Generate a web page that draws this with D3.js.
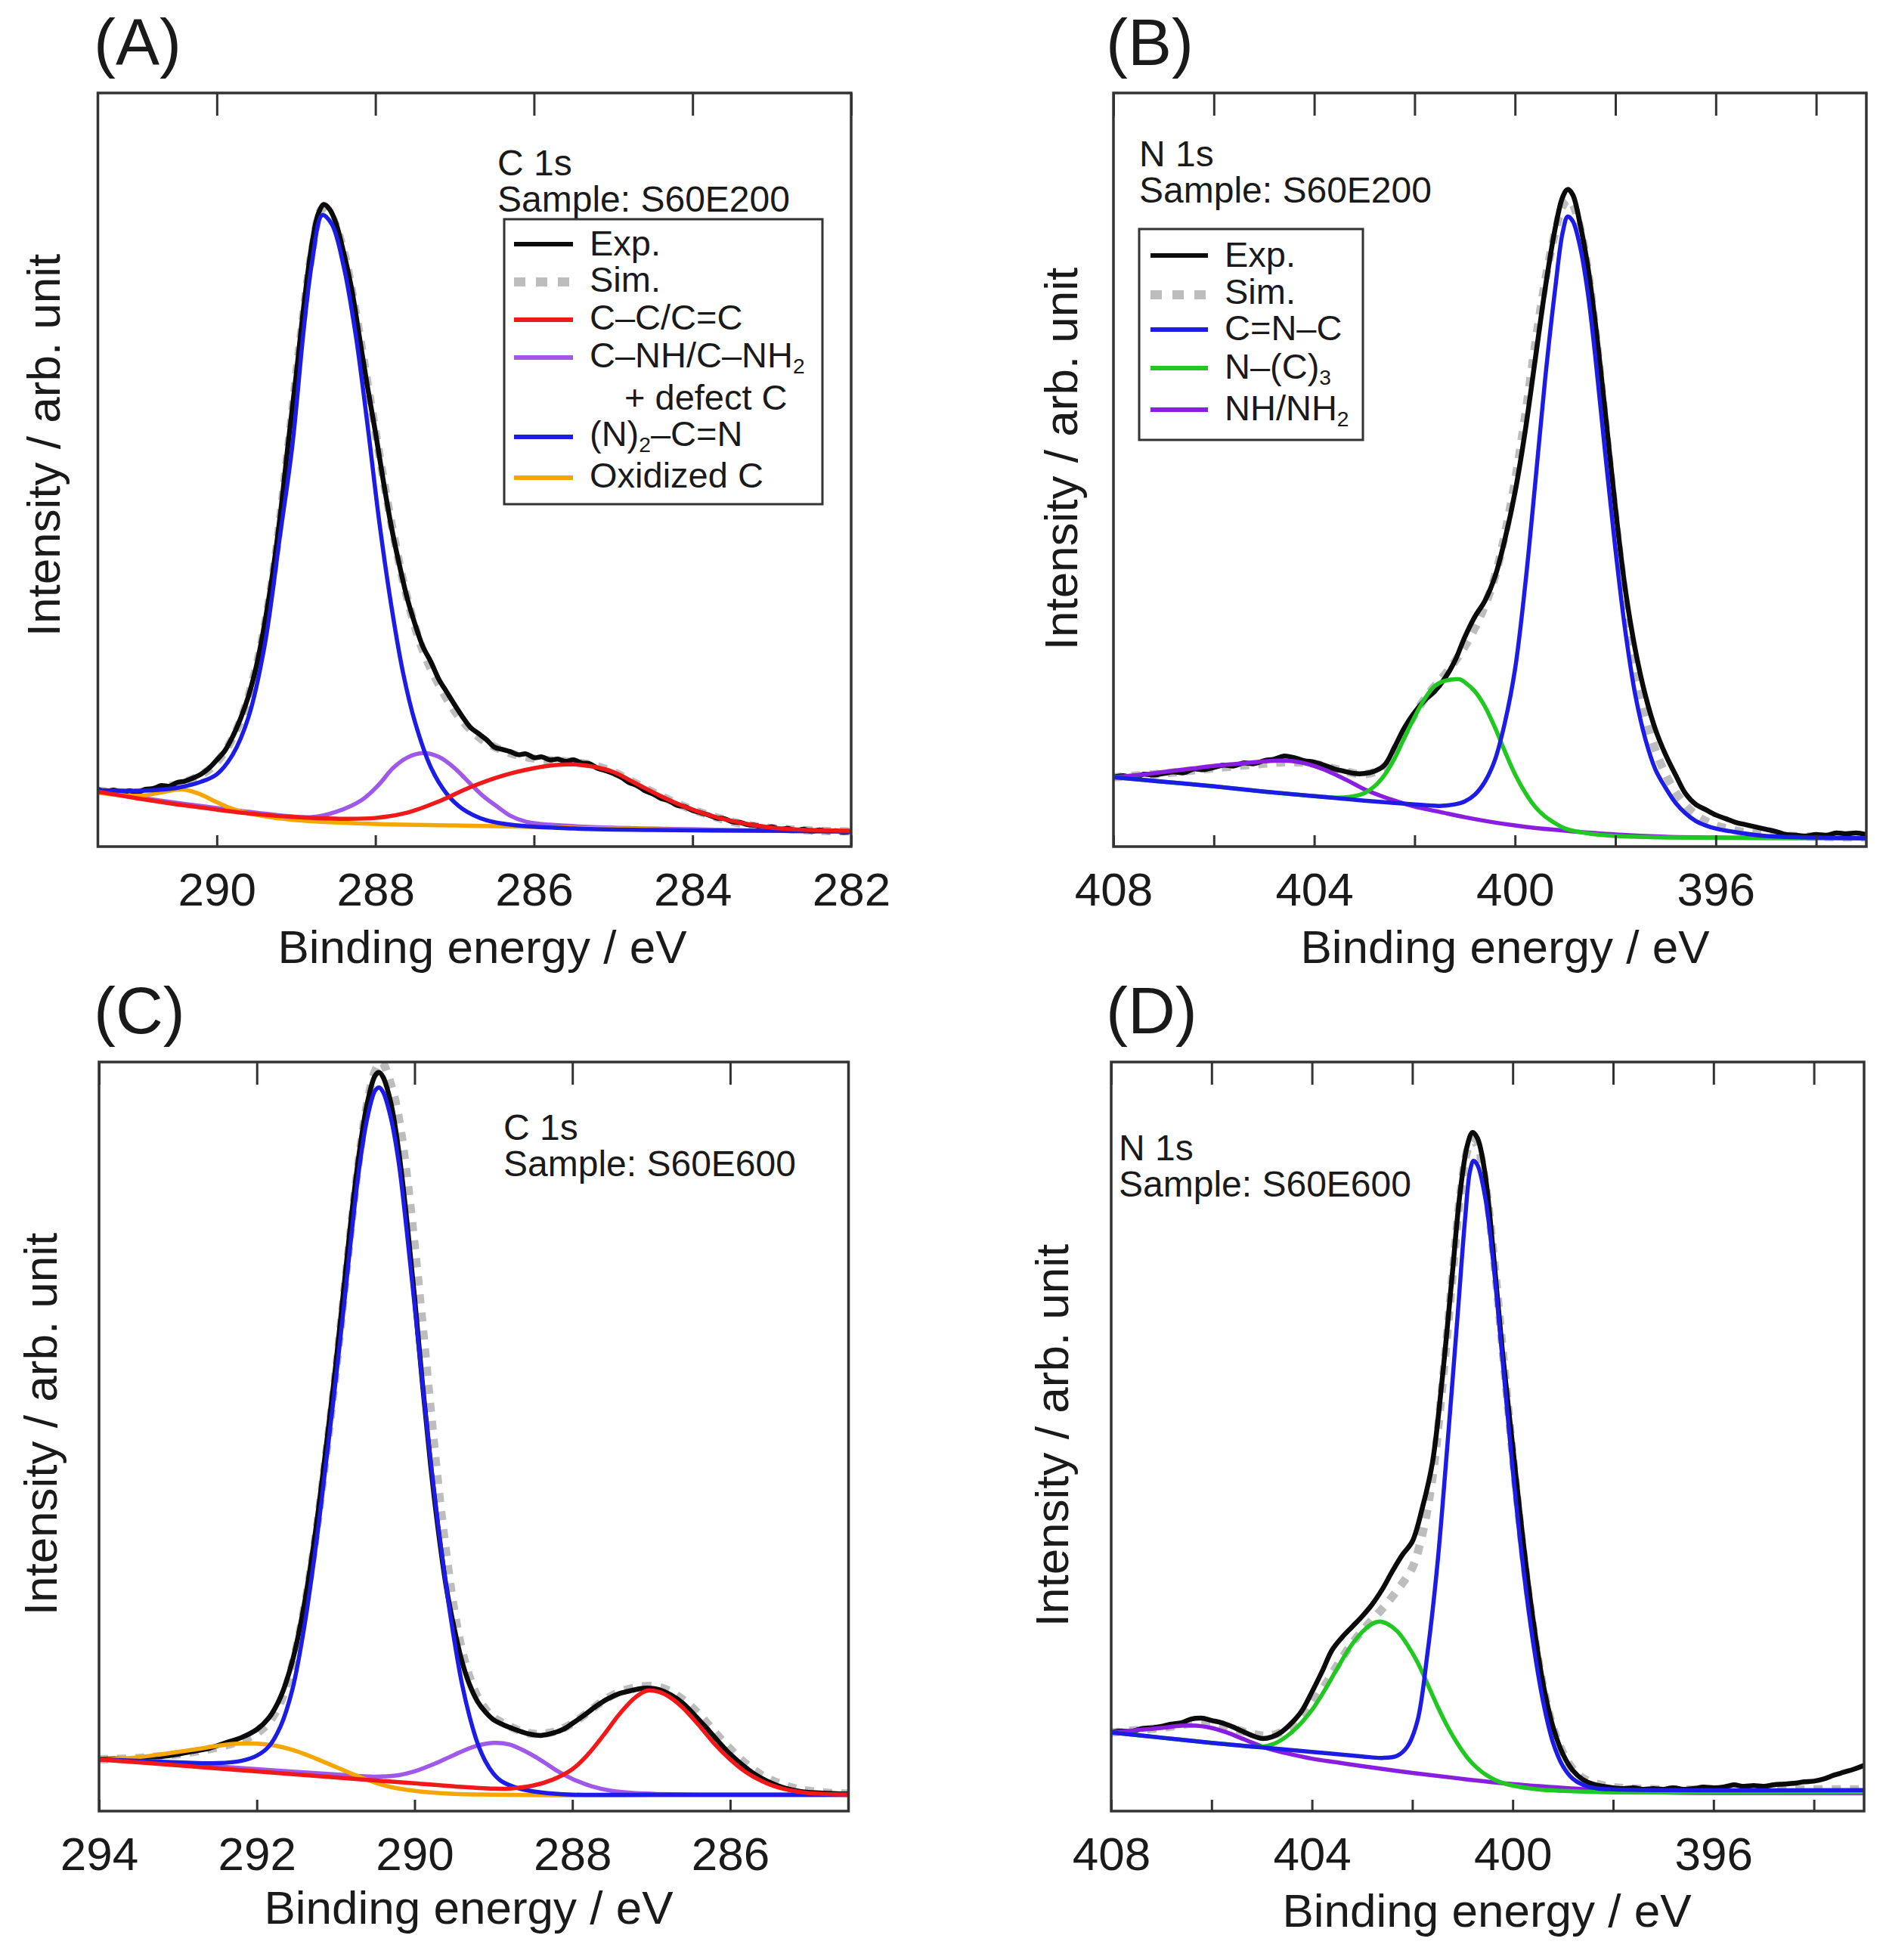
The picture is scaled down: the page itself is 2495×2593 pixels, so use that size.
<!DOCTYPE html>
<html><head><meta charset="utf-8">
<script src="https://cdn.jsdelivr.net/npm/d3@7"></script>
<style>
body{margin:0;background:#fff}
svg text{font-family:"Liberation Sans",Arial,Helvetica,sans-serif;fill:#1a1a1a}
</style>
</head><body>
<svg id="chart" width="2495" height="2593"></svg>
<script>
// ---------------- DATA (binding energy eV, intensity % of frame height) ----------------
const ticksA = [290, 288, 286, 284, 282];
const ticksC = [294, 292, 290, 288, 286];
const ticksN = [408, 406, 404, 402, 400, 398, 396, 394];
const labelsN = [408, 404, 400, 396];

// Panel A : C 1s, S60E200
const A_exp = [[291.5,7.6],[291.4,7.3],[291.3,7.5],[291.2,7.2],[291.1,7.4],[291.0,7.2],[290.9,7.6],[290.8,7.7],[290.7,8.1],[290.6,8.0],[290.5,8.5],[290.4,8.7],[290.3,9.1],[290.2,9.6],[290.1,10.4],[290.0,11.5],[289.9,12.7],[289.8,14.6],[289.7,17.0],[289.6,20.0],[289.5,24.0],[289.4,29.4],[289.3,36.0],[289.2,44.0],[289.1,53.5],[289.0,62.5],[288.9,72.0],[288.8,80.0],[288.72,84.0],[288.65,85.2],[288.58,84.6],[288.5,82.8],[288.4,78.8],[288.3,74.0],[288.2,67.5],[288.1,61.0],[288.0,55.0],[287.9,48.5],[287.8,42.5],[287.7,37.5],[287.6,33.0],[287.5,29.5],[287.4,26.5],[287.3,24.5],[287.2,22.2],[287.1,20.5],[287.0,18.8],[286.9,17.2],[286.8,15.8],[286.7,15.0],[286.6,14.2],[286.5,13.2],[286.4,12.9],[286.3,12.6],[286.2,12.2],[286.1,12.3],[286.0,11.8],[285.9,11.9],[285.8,11.5],[285.7,11.6],[285.6,11.3],[285.5,11.5],[285.4,11.1],[285.3,11.0],[285.2,10.4],[285.1,10.1],[285.0,9.7],[284.9,9.2],[284.8,8.5],[284.7,8.1],[284.6,7.4],[284.5,7.0],[284.4,6.4],[284.3,6.1],[284.2,5.5],[284.1,5.3],[284.0,4.8],[283.9,4.5],[283.8,4.2],[283.7,3.8],[283.6,3.7],[283.5,3.3],[283.4,3.2],[283.3,2.9],[283.2,2.8],[283.1,2.5],[283.0,2.6],[282.9,2.3],[282.8,2.4],[282.7,2.1],[282.6,2.3],[282.5,2.0],[282.4,2.2],[282.3,2.0],[282.2,2.1],[282.1,1.9],[282.0,2.0]];
const A_sim = [[291.5,7.4],[291.0,7.2],[290.6,8.0],[290.3,9.0],[290.1,10.2],[289.9,12.6],[289.7,16.8],[289.5,24.0],[289.3,35.5],[289.1,53.0],[288.95,67.0],[288.8,79.0],[288.67,84.6],[288.55,83.5],[288.4,79.0],[288.25,71.0],[288.1,61.5],[287.95,52.0],[287.8,43.0],[287.6,33.0],[287.4,26.0],[287.2,21.5],[287.0,18.0],[286.8,15.5],[286.6,13.8],[286.3,12.4],[286.0,11.7],[285.6,11.3],[285.3,10.9],[285.0,9.9],[284.7,8.3],[284.4,6.7],[284.1,5.3],[283.8,4.2],[283.5,3.3],[283.2,2.7],[282.8,2.3],[282.4,2.1],[282.0,2.0]];
const A_cc = [[291.5,7.3],[291.0,6.4],[290.5,5.6],[290.0,4.9],[289.5,4.3],[289.0,3.9],[288.5,3.7],[288.0,3.8],[287.6,4.5],[287.2,6.0],[286.8,7.9],[286.4,9.4],[286.0,10.4],[285.75,10.8],[285.5,10.9],[285.25,10.6],[285.0,9.9],[284.7,8.3],[284.4,6.7],[284.1,5.3],[283.8,4.2],[283.5,3.4],[283.2,2.8],[282.9,2.4],[282.5,2.2],[282.0,2.1]];
const A_cnh = [[291.5,7.3],[290.5,5.8],[289.5,4.5],[288.8,3.9],[288.5,4.6],[288.17,6.2],[287.95,8.3],[287.78,10.4],[287.6,11.8],[287.4,12.4],[287.2,11.9],[287.0,10.4],[286.8,8.3],[286.63,6.6],[286.45,5.2],[286.3,4.1],[286.1,3.3],[285.8,2.9],[285.0,2.5],[284.0,2.3],[283.0,2.1],[282.0,2.0]];
const A_ncn = [[291.5,7.5],[291.0,7.4],[290.5,7.8],[290.2,8.6],[290.0,9.6],[289.8,12.2],[289.6,17.2],[289.4,26.5],[289.2,41.5],[289.05,53.0],[288.9,69.0],[288.8,77.5],[288.67,83.8],[288.55,82.6],[288.4,77.0],[288.25,68.0],[288.1,56.0],[287.95,43.0],[287.8,32.0],[287.65,23.0],[287.5,16.5],[287.3,10.5],[287.1,7.0],[286.9,5.0],[286.6,3.5],[286.2,2.8],[285.5,2.4],[284.5,2.2],[283.0,2.1],[282.0,2.0]];
const A_ox = [[291.5,7.2],[291.2,6.8],[290.9,6.8],[290.7,7.2],[290.45,7.6],[290.25,7.1],[290.0,5.9],[289.8,5.0],[289.5,4.2],[289.0,3.5],[288.0,3.0],[287.0,2.8],[286.0,2.6],[285.0,2.4],[284.0,2.2],[283.0,2.1],[282.0,2.0]];

// Panel B : N 1s, S60E200
const B_exp = [[408,9.2],[407.8,9.4],[407.6,9.1],[407.4,9.6],[407.2,9.5],[407,9.7],[406.8,9.9],[406.6,9.8],[406.4,10.3],[406.2,10.2],[406,10.5],[405.8,10.8],[405.6,10.7],[405.4,11.1],[405.2,11.0],[405,11.4],[404.8,11.6],[404.6,12.0],[404.4,11.8],[404.2,11.4],[404,11.2],[403.8,10.8],[403.6,10.3],[403.4,10.0],[403.2,9.7],[403,9.7],[402.8,10.0],[402.6,10.8],[402.4,13.2],[402.2,15.8],[402,17.8],[401.8,19.4],[401.6,20.6],[401.4,22.3],[401.2,24.6],[401,27.8],[400.8,30.5],[400.6,32.6],[400.4,35.8],[400.2,40.8],[400,47.0],[399.8,55.0],[399.6,64.5],[399.4,74.0],[399.2,82.0],[399.05,86.2],[398.95,87.2],[398.85,86.5],[398.7,82.5],[398.55,77.0],[398.4,69.5],[398.2,57.5],[398,45.0],[397.8,34.0],[397.6,26.0],[397.4,20.0],[397.2,15.5],[397,12.2],[396.8,9.5],[396.6,7.0],[396.4,5.6],[396.2,4.9],[396,4.2],[395.8,3.7],[395.6,3.2],[395.4,2.9],[395.2,2.6],[395,2.3],[394.8,2.0],[394.6,1.6],[394.4,1.5],[394.2,1.4],[394,1.6],[393.8,1.5],[393.6,1.8],[393.4,1.7],[393.2,1.8],[393,1.6]];
const B_sim = [[408,9.2],[407,9.7],[406,10.4],[405,11.0],[404.5,11.2],[404,11.0],[403.5,10.2],[403,9.6],[402.6,10.6],[402.3,13.8],[402,17.5],[401.7,20.5],[401.4,22.8],[401.1,25.5],[400.8,29.0],[400.6,32.0],[400.4,35.8],[400.2,41.5],[400,48.5],[399.8,57.0],[399.6,66.5],[399.4,75.0],[399.2,81.5],[399.05,85.0],[398.95,85.8],[398.85,85.2],[398.7,82.0],[398.55,76.5],[398.4,68.5],[398.2,56.0],[398,43.5],[397.8,32.5],[397.6,23.5],[397.4,17.2],[397.2,12.8],[397,9.6],[396.8,7.2],[396.6,5.5],[396.4,4.2],[396.2,3.4],[396,2.8],[395.5,2.0],[395,1.6],[394,1.3],[393,1.2]];
const B_cnc = [[408,9.2],[407,8.6],[406,8.0],[405,7.3],[404,6.7],[403,6.1],[402,5.6],[401.5,5.4],[401.2,5.6],[401,6.0],[400.8,6.9],[400.6,8.6],[400.4,11.5],[400.2,16.5],[400,23.5],[399.8,34.5],[399.6,48.0],[399.4,62.0],[399.2,74.0],[399.05,81.5],[398.95,83.6],[398.85,83.0],[398.7,79.5],[398.55,73.5],[398.4,65.0],[398.2,52.0],[398,39.5],[397.8,28.5],[397.6,20.0],[397.4,14.2],[397.2,10.2],[397,7.8],[396.8,5.8],[396.6,4.4],[396.4,3.4],[396.2,2.8],[396,2.4],[395.5,1.8],[395,1.4],[394,1.2],[393,1.1]];
const B_nc3 = [[408,9.2],[407,8.6],[406,8.0],[405,7.3],[404,6.7],[403.5,6.5],[403.2,6.7],[403,7.1],[402.8,8.0],[402.6,9.5],[402.4,11.7],[402.2,14.5],[402,17.2],[401.8,19.6],[401.6,21.3],[401.4,22.0],[401.2,22.2],[401.1,22.2],[401,21.8],[400.8,20.6],[400.6,18.6],[400.4,15.8],[400.2,12.6],[400,9.6],[399.8,7.2],[399.6,5.3],[399.4,4.0],[399.2,3.1],[399,2.4],[398.5,1.7],[398,1.4],[397,1.2],[393,1.1]];
const B_nh = [[408,9.2],[407.5,9.5],[407,9.9],[406.5,10.3],[406,10.7],[405.5,11.0],[405,11.3],[404.7,11.4],[404.4,11.3],[404.1,10.9],[403.8,10.2],[403.5,9.3],[403.2,8.3],[403,7.6],[402.7,6.8],[402.4,6.1],[402,5.3],[401.5,4.6],[401,3.9],[400.5,3.3],[400,2.8],[399.5,2.4],[399,2.1],[398,1.6],[397,1.3],[396,1.2],[393,1.1]];

// Panel C : C 1s, S60E600
const C_exp = [[294,6.9],[293.8,7.0],[293.6,6.9],[293.4,7.2],[293.2,7.3],[293,7.6],[292.8,8.0],[292.6,8.4],[292.4,9.1],[292.2,9.8],[292,10.9],[291.85,12.4],[291.7,15.2],[291.55,20.0],[291.4,27.5],[291.25,37.8],[291.1,50.5],[291,59.5],[290.9,69.5],[290.8,79.5],[290.7,88.0],[290.6,94.5],[290.5,98.2],[290.45,98.6],[290.4,98.0],[290.3,94.5],[290.2,88.0],[290.1,79.0],[290,68.5],[289.9,57.0],[289.8,46.5],[289.7,37.5],[289.6,30.0],[289.5,24.5],[289.4,20.0],[289.3,16.8],[289.2,14.6],[289.1,13.2],[289,12.2],[288.85,11.4],[288.7,10.8],[288.55,10.3],[288.4,10.1],[288.25,10.4],[288.1,11.0],[288,11.7],[287.85,12.8],[287.7,14.0],[287.55,15.0],[287.4,15.7],[287.25,16.1],[287.1,16.4],[287,16.4],[286.9,16.2],[286.75,15.5],[286.6,14.4],[286.45,12.8],[286.3,11.1],[286.15,9.3],[286,7.6],[285.85,6.2],[285.7,5.0],[285.55,4.1],[285.4,3.4],[285.25,2.9],[285.1,2.6],[285,2.5],[284.8,2.4],[284.6,2.3],[284.4,2.3]];
const C_sim = [[294,6.9],[293.5,7.1],[293,7.6],[292.5,8.5],[292.2,9.4],[292,10.4],[291.85,11.8],[291.7,14.5],[291.55,19.5],[291.4,27.0],[291.25,37.0],[291.1,49.5],[291,58.5],[290.9,68.5],[290.8,78.5],[290.7,87.5],[290.6,94.5],[290.5,98.8],[290.42,100],[290.3,97.0],[290.2,92.5],[290.1,85.0],[290.0,75.5],[289.9,65.0],[289.8,54.0],[289.7,43.5],[289.6,34.5],[289.5,27.0],[289.4,21.5],[289.3,17.8],[289.2,15.2],[289.1,13.6],[289.0,12.5],[288.85,11.6],[288.6,10.5],[288.4,10.3],[288.2,10.7],[288,11.7],[287.8,13.2],[287.6,14.8],[287.4,15.9],[287.2,16.5],[287,16.7],[286.8,16.2],[286.6,14.9],[286.4,13.0],[286.2,10.6],[286,8.3],[285.8,6.3],[285.6,4.8],[285.4,3.8],[285.2,3.1],[285,2.7],[284.7,2.4],[284.4,2.3]];
const C_cc = [[294,6.9],[293,6.1],[292,5.3],[291,4.5],[290,3.7],[289.5,3.3],[289,3.0],[288.8,3.0],[288.5,3.4],[288.25,4.2],[288.0,5.6],[287.8,7.6],[287.6,10.2],[287.4,13.0],[287.2,15.2],[287.05,16.1],[286.9,15.9],[286.75,15.1],[286.6,13.8],[286.4,11.5],[286.2,9.0],[286,6.9],[285.8,5.2],[285.6,4.0],[285.4,3.2],[285.2,2.7],[285,2.4],[284.4,2.2]];
const C_cnh = [[294,6.9],[293,6.3],[292,5.6],[291,4.9],[290.5,4.6],[290.2,4.8],[290,5.3],[289.75,6.3],[289.5,7.5],[289.25,8.6],[289,9.1],[288.8,8.9],[288.6,8.0],[288.4,6.8],[288.2,5.4],[288,4.3],[287.75,3.3],[287.5,2.7],[287.2,2.4],[286.5,2.2],[284.4,2.2]];
const C_ncn = [[294,6.9],[293.5,6.7],[293,6.5],[292.5,6.4],[292.2,6.7],[292,7.4],[291.85,8.6],[291.7,11.3],[291.55,16.2],[291.4,24.5],[291.25,35.5],[291.1,48.5],[291,57.5],[290.9,67.0],[290.8,77.0],[290.7,86.0],[290.6,92.5],[290.5,96.2],[290.45,96.6],[290.4,96.0],[290.3,92.5],[290.2,86.5],[290.1,77.5],[290,67.5],[289.9,57.0],[289.8,47.0],[289.7,38.0],[289.6,30.0],[289.5,23.0],[289.4,17.0],[289.3,12.5],[289.2,9.0],[289.1,6.6],[289,5.0],[288.9,4.0],[288.7,3.1],[288.4,2.5],[288,2.2],[287,2.2],[286,2.2],[284.4,2.2]];
const C_ox = [[294,6.9],[293.6,7.1],[293.2,7.6],[292.8,8.2],[292.5,8.7],[292.25,9.0],[292,9.0],[291.75,8.7],[291.5,8.0],[291.25,7.0],[291,5.9],[290.75,4.8],[290.5,3.8],[290.25,3.1],[290,2.7],[289.5,2.3],[289,2.2],[288,2.1],[284.4,2.1]];

// Panel D : N 1s, S60E600
const D_exp = [[408,10.5],[407.8,10.7],[407.6,10.6],[407.4,11.0],[407.2,11.1],[407,11.3],[406.8,11.6],[406.6,11.8],[406.4,12.3],[406.2,12.4],[406,12.1],[405.8,11.8],[405.6,11.3],[405.4,10.7],[405.2,10.1],[405,9.7],[404.8,9.9],[404.6,10.6],[404.4,11.8],[404.2,13.4],[404,15.9],[403.8,18.6],[403.6,21.5],[403.4,23.2],[403.2,24.6],[403,26.0],[402.8,27.6],[402.6,29.6],[402.4,32.0],[402.2,34.2],[402,36.0],[401.8,40.5],[401.6,46.5],[401.4,58.0],[401.2,72.0],[401.05,82.5],[400.9,89.0],[400.8,90.6],[400.7,89.8],[400.55,85.0],[400.4,75.5],[400.2,61.0],[400,48.7],[399.8,36.5],[399.6,25.8],[399.4,17.2],[399.2,11.3],[399,7.6],[398.8,5.4],[398.6,4.2],[398.4,3.6],[398.2,3.3],[398,3.1],[397.8,3.0],[397.6,3.1],[397.4,2.9],[397.2,3.0],[397,2.9],[396.8,3.1],[396.6,2.9],[396.4,3.0],[396.2,3.2],[396,3.1],[395.8,3.2],[395.6,3.5],[395.4,3.3],[395.2,3.4],[395,3.3],[394.8,3.5],[394.6,3.6],[394.4,3.7],[394.2,3.9],[394,4.0],[393.8,4.3],[393.6,4.8],[393.4,5.2],[393.2,5.6],[393,6.1]];
const D_sim = [[408,10.5],[407.5,10.8],[407,11.1],[406.5,11.6],[406.2,11.8],[405.9,11.6],[405.6,11.1],[405.3,10.5],[405,10.1],[404.7,10.3],[404.4,11.4],[404.1,13.4],[403.8,16.2],[403.5,19.4],[403.2,22.4],[402.9,24.8],[402.6,27.0],[402.3,29.5],[402,32.5],[401.8,37.0],[401.6,44.5],[401.4,57.0],[401.2,71.5],[401.05,82.0],[400.9,88.3],[400.8,89.6],[400.7,88.8],[400.55,84.0],[400.4,75.5],[400.2,61.5],[400,47.5],[399.8,35.0],[399.6,24.8],[399.4,16.8],[399.2,11.2],[399,7.8],[398.8,5.6],[398.6,4.4],[398.3,3.6],[398,3.2],[397,2.9],[396,2.9],[395,2.9],[394,2.9],[393,2.9]];
const D_cnc = [[408,10.5],[407,9.8],[406,9.1],[405,8.5],[404,7.9],[403,7.3],[402.6,7.1],[402.3,7.4],[402.1,8.6],[401.9,12.0],[401.7,21.0],[401.5,33.0],[401.3,49.0],[401.1,66.0],[400.95,79.0],[400.85,85.5],[400.78,86.8],[400.7,86.2],[400.55,82.0],[400.4,74.0],[400.2,60.0],[400,45.5],[399.8,33.0],[399.6,22.8],[399.4,14.8],[399.2,9.2],[399,6.0],[398.8,4.3],[398.6,3.5],[398.3,3.0],[398,2.9],[397,2.8],[393,2.8]];
const D_nc3 = [[408,10.5],[407,9.8],[406,9.1],[405.5,8.8],[405,8.6],[404.75,9.0],[404.5,10.0],[404.25,11.5],[404,13.5],[403.75,16.1],[403.5,19.0],[403.25,21.8],[403,23.9],[402.8,25.0],[402.65,25.3],[402.5,25.0],[402.3,24.0],[402.1,22.2],[401.9,19.9],[401.7,17.0],[401.5,14.0],[401.3,11.3],[401.1,9.0],[400.9,7.1],[400.7,5.7],[400.5,4.7],[400.3,4.0],[400,3.4],[399.5,2.9],[399,2.7],[398,2.5],[393,2.5]];
const D_nh = [[408,10.5],[407.5,10.8],[407,11.1],[406.6,11.4],[406.3,11.4],[406,11.1],[405.7,10.5],[405.4,9.7],[405.1,8.9],[404.8,8.2],[404.5,7.7],[404,7.0],[403.5,6.5],[403,6.0],[402,5.1],[401,4.3],[400,3.6],[399,3.1],[398,2.7],[397,2.5],[396,2.4],[393,2.4]];

// ---------------- STYLE / LAYOUT ----------------
const COL = {exp:"#0b0b0b", sim:"#bdbdbd", red:"#f01818", violet:"#a058e8", blue:"#1c1ce6",
             green:"#22c822", orange:"#f5a600", nh:"#8a1ee0"};
const svg = d3.select("#chart");

function addRich(g, x, y, parts, size) {
  const t = g.append("text").attr("x", x).attr("y", y).attr("font-size", size);
  let inSub = false;
  parts.forEach(p => {
    const s = t.append("tspan");
    if (typeof p === "string") {
      s.text(p);
      if (inSub) { s.attr("dy", -size * 0.16); inSub = false; }
    } else {
      s.text(p.sub).attr("font-size", size * 0.6).attr("dy", size * 0.16);
      inSub = true;
    }
  });
  return t;
}

function panel(cfg) {
  const g = svg.append("g");
  const x = d3.scaleLinear().domain(cfg.domain).range([cfg.x0, cfg.x1]);
  const y = d3.scaleLinear().domain([0, 100]).range([cfg.y1, cfg.y0]);
  const id = "clip" + cfg.name;
  svg.append("clipPath").attr("id", id).append("rect")
    .attr("x", cfg.x0).attr("y", cfg.y0).attr("width", cfg.x1 - cfg.x0).attr("height", cfg.y1 - cfg.y0);
  const line = d3.line().x(d => x(d[0])).y(d => y(d[1])).curve(d3.curveCatmullRom.alpha(0.5));
  const plot = g.append("g").attr("clip-path", `url(#${id})`);

  plot.append("path").datum(cfg.sim).attr("d", line).attr("fill", "none")
    .attr("stroke", COL.sim).attr("stroke-width", 11).attr("stroke-dasharray", "12 12");
  plot.append("path").datum(cfg.exp).attr("d", line).attr("fill", "none")
    .attr("stroke", COL.exp).attr("stroke-width", 6.5).attr("stroke-linejoin", "round");
  cfg.comps.forEach(c => {
    plot.append("path").datum(c.data).attr("d", line).attr("fill", "none")
      .attr("stroke", c.color).attr("stroke-width", 5.5).attr("stroke-linejoin", "round");
  });

  // frame
  g.append("rect").attr("x", cfg.x0).attr("y", cfg.y0).attr("width", cfg.x1 - cfg.x0)
    .attr("height", cfg.y1 - cfg.y0).attr("fill", "none").attr("stroke", "#333").attr("stroke-width", 3.5);

  // top ticks (inward)
  const top = g.append("g").attr("transform", `translate(0,${cfg.y0})`)
    .call(d3.axisTop(x).tickValues(cfg.ticks).tickSizeInner(-30).tickSizeOuter(0).tickFormat(""));
  top.select(".domain").remove();
  top.selectAll("line").attr("stroke", "#333").attr("stroke-width", 3);

  // bottom ticks + labels
  const bot = g.append("g").attr("transform", `translate(0,${cfg.y1})`)
    .call(d3.axisBottom(x).tickValues(cfg.ticks).tickSizeInner(-15).tickSizeOuter(0).tickPadding(34)
      .tickFormat(d => cfg.labels.includes(d) ? d3.format("d")(d) : ""));
  bot.select(".domain").remove();
  bot.selectAll("line").attr("stroke", "#333").attr("stroke-width", 3);
  bot.selectAll("text").attr("font-size", 62).attr("fill", "#1a1a1a")
    .attr("font-family", '"Liberation Sans",Arial,sans-serif');

  // axis titles
  g.append("text").attr("x", cfg.xtX).attr("y", cfg.xtY).attr("text-anchor", "middle")
    .attr("font-size", 62).text("Binding energy / eV");
  g.append("text").attr("transform", `translate(${cfg.ytX},${cfg.ytY}) rotate(-90)`)
    .attr("text-anchor", "middle").attr("font-size", 62).text("Intensity / arb. unit");
  // panel letter
  g.append("text").attr("x", cfg.lx).attr("y", cfg.ly).attr("font-size", 87).text(cfg.letter);
  // annotation
  g.append("text").attr("x", cfg.ax).attr("y", cfg.ay).attr("font-size", 48).text(cfg.ann1);
  g.append("text").attr("x", cfg.ax).attr("y", cfg.ay + 48).attr("font-size", 48).text(cfg.ann2);
  return g;
}

function legend(g, box, items) {
  g.append("rect").attr("x", box.x).attr("y", box.y).attr("width", box.w).attr("height", box.h)
    .attr("fill", "#fff").attr("stroke", "#333").attr("stroke-width", 3);
  items.forEach(it => {
    if (it.color) {
      const ln = g.append("line").attr("x1", box.lx1).attr("x2", box.lx2).attr("y1", it.ly).attr("y2", it.ly)
        .attr("stroke", it.color);
      if (it.dash) ln.attr("stroke-width", 12).attr("stroke-dasharray", "15 14");
      else ln.attr("stroke-width", 6);
    }
    addRich(g, it.tx || box.tx, it.ty, it.parts, 47);
  });
}

const gA = panel({name:"A", domain:[291.5, 282], x0:129.5, x1:1126, y0:123, y1:1120,
  ticks: ticksA, labels: ticksA, exp: A_exp, sim: A_sim,
  comps: [{data:A_cnh, color:COL.violet}, {data:A_ox, color:COL.orange}, {data:A_ncn, color:COL.blue}, {data:A_cc, color:COL.red}],
  xtX:638, xtY:1274, ytX:79, ytY:589, letter:"(A)", lx:124, ly:86,
  ax:658, ay:232, ann1:"C 1s", ann2:"Sample: S60E200"});
legend(gA, {x:667, y:290, w:421, h:377, lx1:680, lx2:758, tx:780}, [
  {color:COL.exp, ly:323, ty:338, parts:["Exp."]},
  {color:COL.sim, dash:true, ly:373, ty:386, parts:["Sim."]},
  {color:COL.red, ly:423, ty:436, parts:["C–C/C=C"]},
  {color:COL.violet, ly:473, ty:486, parts:["C–NH/C–NH", {sub:"2"}]},
  {ty:542, tx:826, parts:["+ defect C"]},
  {color:COL.blue, ly:578, ty:590, parts:["(N)", {sub:"2"}, "–C=N"]},
  {color:COL.orange, ly:632, ty:645, parts:["Oxidized C"]}
]);

const gB = panel({name:"B", domain:[408, 393], x0:1473, x1:2469, y0:123, y1:1120,
  ticks: ticksN, labels: labelsN, exp: B_exp, sim: B_sim,
  comps: [{data:B_nh, color:COL.nh}, {data:B_nc3, color:COL.green}, {data:B_cnc, color:COL.blue}],
  xtX:1991, xtY:1274, ytX:1425, ytY:607, letter:"(B)", lx:1463, ly:86,
  ax:1507, ay:220, ann1:"N 1s", ann2:"Sample: S60E200"});
legend(gB, {x:1507, y:303, w:296, h:279, lx1:1522, lx2:1598, tx:1620}, [
  {color:COL.exp, ly:338, ty:353, parts:["Exp."]},
  {color:COL.sim, dash:true, ly:390, ty:402, parts:["Sim."]},
  {color:COL.blue, ly:436, ty:450, parts:["C=N–C"]},
  {color:COL.green, ly:487, ty:501, parts:["N–(C)", {sub:"3"}]},
  {color:COL.nh, ly:542, ty:556, parts:["NH/NH", {sub:"2"}]}
]);

panel({name:"C", domain:[294, 284.5], x0:131, x1:1122.5, y0:1405, y1:2396,
  ticks: ticksC, labels: ticksC, exp: C_exp, sim: C_sim,
  comps: [{data:C_cnh, color:COL.violet}, {data:C_ox, color:COL.orange}, {data:C_ncn, color:COL.blue}, {data:C_cc, color:COL.red}],
  xtX:620, xtY:2545, ytX:75, ytY:1884, letter:"(C)", lx:124, ly:1367,
  ax:666, ay:1508, ann1:"C 1s", ann2:"Sample: S60E600"});

panel({name:"D", domain:[408, 393], x0:1470, x1:2466, y0:1405, y1:2396,
  ticks: ticksN, labels: labelsN, exp: D_exp, sim: D_sim,
  comps: [{data:D_nh, color:COL.nh}, {data:D_nc3, color:COL.green}, {data:D_cnc, color:COL.blue}],
  xtX:1967, xtY:2549, ytX:1413, ytY:1899, letter:"(D)", lx:1463, ly:1367,
  ax:1480, ay:1535, ann1:"N 1s", ann2:"Sample: S60E600"});
</script>
</body></html>
